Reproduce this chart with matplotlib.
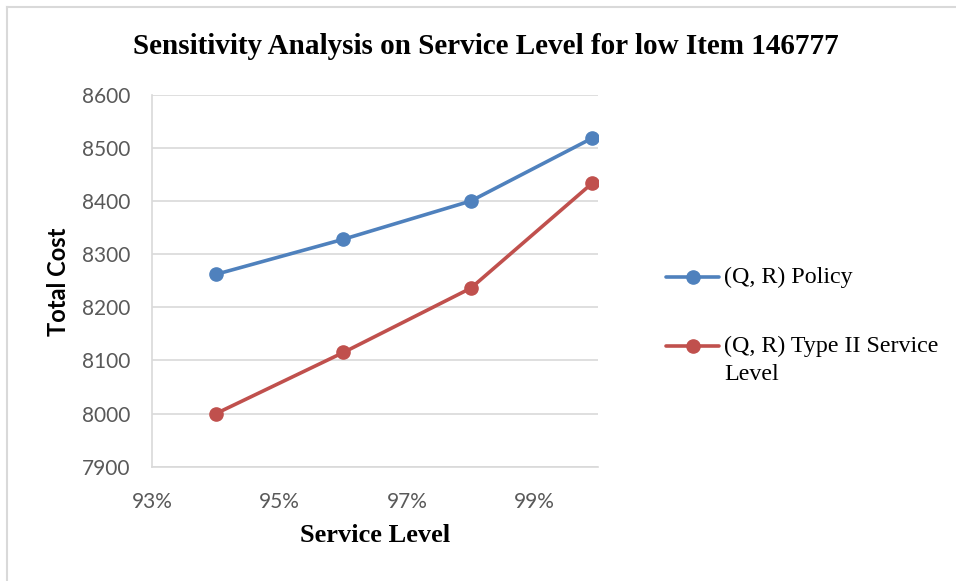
import matplotlib
matplotlib.use("Agg")
import matplotlib.pyplot as plt
from matplotlib.lines import Line2D
from matplotlib.ticker import FuncFormatter, FixedLocator, MultipleLocator

# Service level (%) and total cost for each policy
service_level = [94.0, 96.0, 98.0, 99.9]
qr_policy = [8262, 8328, 8400, 8518]
qr_type2 = [8000, 8115, 8236, 8433]

x_ticks = [93, 95, 97, 99]
series_names = ["(Q, R) Policy", "(Q, R) Type II Service Level"]
legend_lines = [["(Q, R) Policy"], ["(Q, R) Type II Service", "Level"]]

title = "Sensitivity Analysis on Service Level for low Item 146777"
x_label = "Service Level"
y_label = "Total Cost"

BLUE = "#4F81BD"
RED = "#C0504D"
GRID = "#D9D9D9"
TICK = "#595959"

fig = plt.figure(figsize=(9.56, 5.81), dpi=100)
ax = fig.add_axes([152.3 / 956, 1 - 466.7 / 581, (598.3 - 152.3) / 956, (466.7 - 94.7) / 581])

for vals, col, name in [(qr_policy, BLUE, series_names[0]), (qr_type2, RED, series_names[1])]:
    ax.plot(service_level, vals, color=col, lw=2.6, marker="o", ms=9.5,
            markeredgecolor=col, markerfacecolor=col, label=name, zorder=3,
            solid_capstyle="round")

ax.set_xlim(93, 100)
ax.set_ylim(7900, 8600)
ax.xaxis.set_major_locator(FixedLocator(x_ticks))
ax.yaxis.set_major_locator(MultipleLocator(100))
ax.xaxis.set_major_formatter(FuncFormatter(lambda v, p: f"{v:.0f}%"))
ax.grid(axis="y", color=GRID, lw=1.2)
ax.set_axisbelow(True)
for s in ["top", "right"]:
    ax.spines[s].set_visible(False)
for s in ["left", "bottom"]:
    ax.spines[s].set_color(GRID)
    ax.spines[s].set_linewidth(1.2)
ax.tick_params(length=0, labelcolor=TICK, labelsize=15)
ax.tick_params(axis="y", pad=16)
ax.tick_params(axis="x", pad=18.5)
for lab in ax.get_xticklabels() + ax.get_yticklabels():
    lab.set_fontfamily("Lato")

fig.text(486 / 956, 1 - 46 / 581, title, ha="center", va="center",
         fontfamily="Liberation Serif", fontweight="bold", fontsize=21)
fig.text(375 / 956, 1 - 536 / 581, x_label, ha="center", va="center",
         fontfamily="Liberation Serif", fontweight="bold", fontsize=19)
fig.text(58 / 956, 1 - 282 / 581, y_label, ha="center", va="center", rotation=90,
         fontfamily="Lato", fontweight="bold", fontsize=17)

# Legend drawn beside the plot, handle aligned with the first text line
for col, lines, ypx in [(BLUE, legend_lines[0], 277), (RED, legend_lines[1], 346)]:
    y = 1 - ypx / 581
    fig.add_artist(Line2D([666 / 956, 693 / 956, 719 / 956], [y, y, y], color=col, lw=2.6,
                          marker="o", ms=9.5, markevery=[1], transform=fig.transFigure,
                          solid_capstyle="round"))
    for i, txt in enumerate(lines):
        fig.text(724 / 956, 1 - (ypx + i * 28.5) / 581, txt, ha="left", va="center",
                 fontfamily="Liberation Serif", fontsize=17.3)

# Chart-area border along the top and left edges
fig.add_artist(Line2D([6.5 / 956, 1], [1 - 7 / 581, 1 - 7 / 581], color=GRID, lw=1.5,
                      transform=fig.transFigure))
fig.add_artist(Line2D([6.5 / 956, 6.5 / 956], [0, 1 - 7 / 581], color=GRID, lw=1.5,
                      transform=fig.transFigure))

fig.savefig("out.png", dpi=100)
